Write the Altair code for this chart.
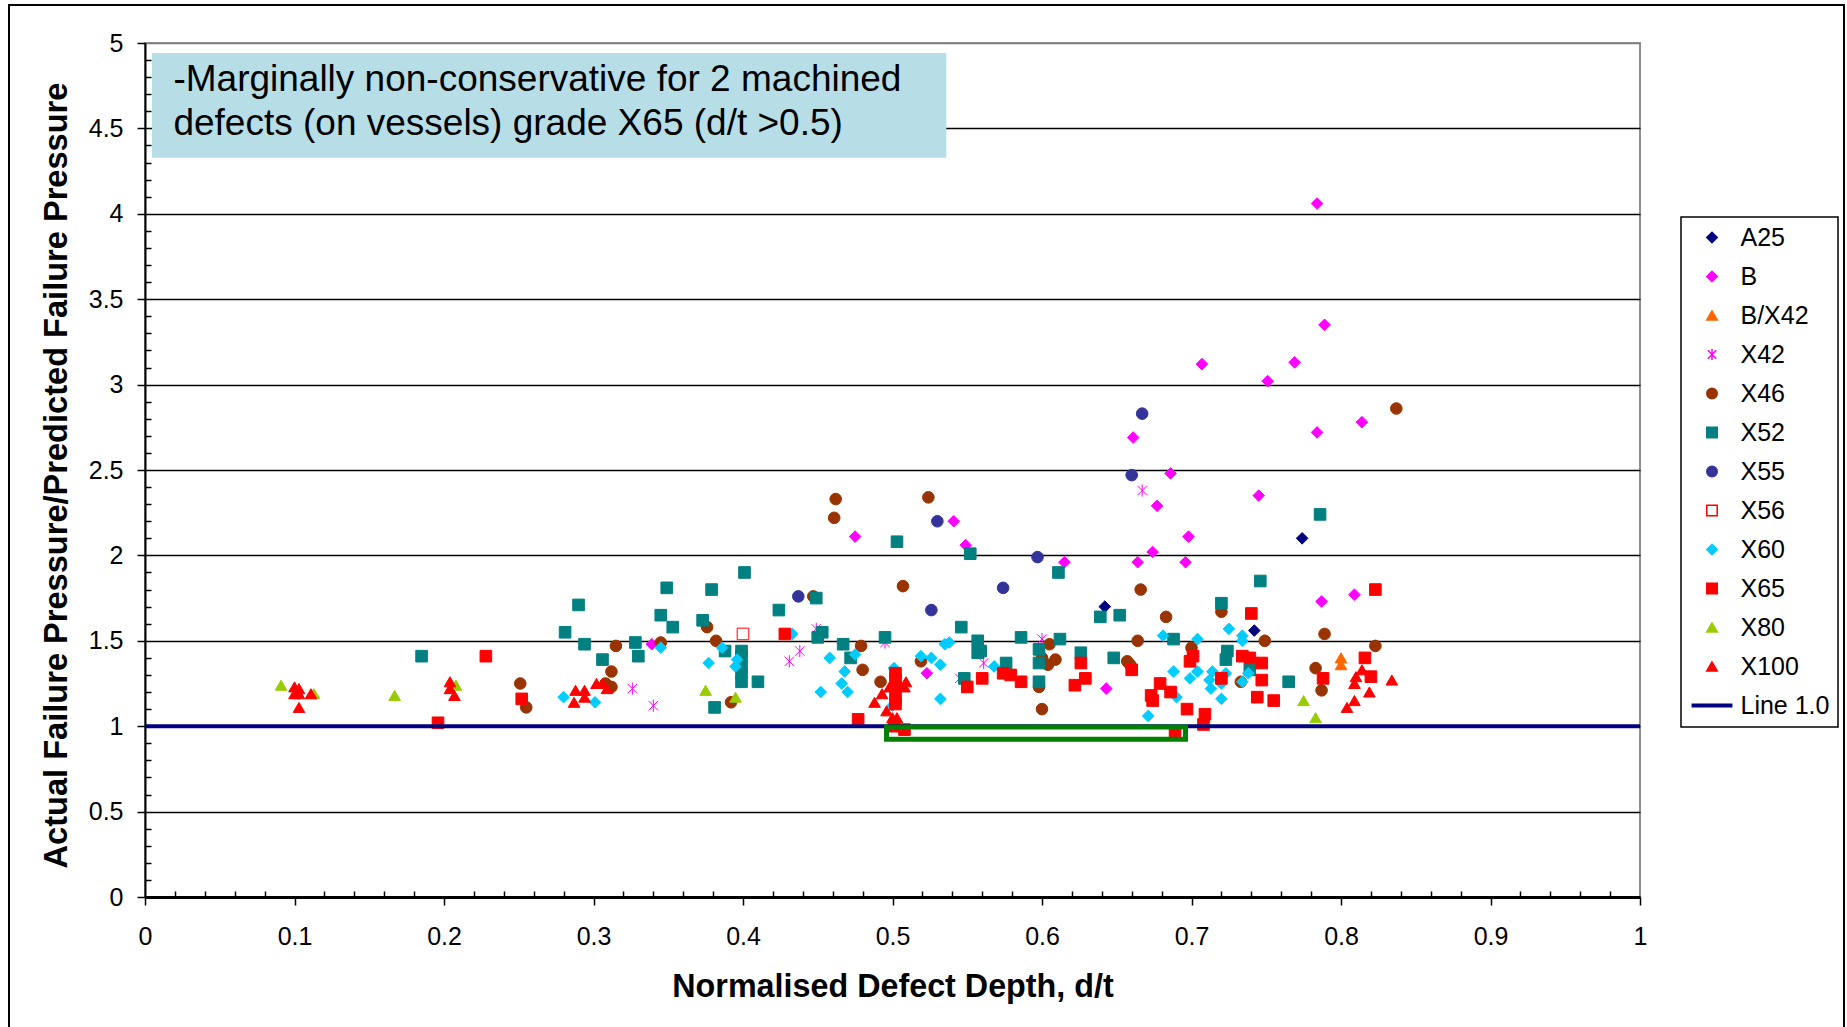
import altair as alt
import pandas as pd

FONT = "Liberation Sans"

# ---------------- data ----------------
a25_x = [0.642, 0.742, 0.774]
a25_y = [1.70, 1.56, 2.10]

b_x = [0.784, 0.789, 0.707, 0.769, 0.751, 0.661, 0.784, 0.814, 0.686, 0.677, 0.745, 0.698,
       0.541, 0.549, 0.615, 0.664, 0.674, 0.696, 0.787, 0.809, 0.475, 0.339, 0.523, 0.643]
b_y = [4.06, 3.35, 3.12, 3.13, 3.02, 2.69, 2.72, 2.78, 2.48, 2.29, 2.35, 2.11,
       2.20, 2.06, 1.96, 1.96, 2.02, 1.96, 1.73, 1.77, 2.11, 1.48, 1.31, 1.22]

bx42_x = [0.800, 0.800]
bx42_y = [1.40, 1.36]

x42_x = [0.667, 0.600, 0.561, 0.545, 0.449, 0.438, 0.431, 0.326, 0.340, 0.495]
x42_y = [2.38, 1.51, 1.37, 1.28, 1.57, 1.44, 1.38, 1.22, 1.12, 1.49]

x46_x = [0.837, 0.666, 0.683, 0.720, 0.789, 0.823, 0.664, 0.749, 0.605, 0.600,
         0.609, 0.604, 0.657, 0.659, 0.700, 0.733, 0.783, 0.787, 0.598, 0.600,
         0.462, 0.461, 0.524, 0.507, 0.447, 0.376, 0.315, 0.345, 0.382, 0.479,
         0.480, 0.492, 0.519, 0.312, 0.308, 0.312, 0.392, 0.251, 0.255]
x46_y = [2.86, 1.80, 1.64, 1.67, 1.54, 1.47, 1.50, 1.50, 1.48, 1.40,
         1.39, 1.36, 1.38, 1.36, 1.46, 1.26, 1.34, 1.21, 1.23, 1.10,
         2.33, 2.22, 2.34, 1.82, 1.76, 1.58, 1.47, 1.49, 1.50, 1.47,
         1.33, 1.26, 1.38, 1.32, 1.25, 1.23, 1.14, 1.25, 1.11]

x52_x = [0.786, 0.611, 0.639, 0.652, 0.746, 0.720, 0.546, 0.688, 0.557, 0.557,
         0.559, 0.586, 0.612, 0.598, 0.598, 0.626, 0.648, 0.724, 0.723, 0.739,
         0.765, 0.548, 0.576, 0.598, 0.552, 0.503, 0.401, 0.349, 0.379, 0.449,
         0.290, 0.345, 0.424, 0.353, 0.373, 0.281, 0.453, 0.450, 0.495, 0.294,
         0.328, 0.388, 0.399, 0.399, 0.399, 0.399, 0.399, 0.410, 0.467, 0.472,
         0.330, 0.306, 0.381, 0.185]
x52_y = [2.24, 1.90, 1.64, 1.65, 1.85, 1.72, 1.58, 1.51, 1.50, 1.43,
         1.44, 1.52, 1.51, 1.45, 1.37, 1.43, 1.40, 1.44, 1.39, 1.33,
         1.26, 1.28, 1.37, 1.26, 2.01, 2.08, 1.90, 1.81, 1.80, 1.75,
         1.71, 1.65, 1.68, 1.58, 1.62, 1.55, 1.55, 1.52, 1.52, 1.48,
         1.49, 1.44, 1.44, 1.41, 1.35, 1.31, 1.26, 1.26, 1.48, 1.40,
         1.41, 1.39, 1.11, 1.41]

x55_x = [0.667, 0.660, 0.597, 0.574, 0.530, 0.437, 0.526]
x55_y = [2.83, 2.47, 1.99, 1.81, 2.20, 1.76, 1.68]

x56_x = [0.400]
x56_y = [1.54]

x60_x = [0.681, 0.704, 0.725, 0.734, 0.734, 0.738, 0.734, 0.688, 0.704, 0.714,
         0.723, 0.699, 0.712, 0.713, 0.720, 0.690, 0.720, 0.671, 0.568, 0.433,
         0.345, 0.386, 0.396, 0.395, 0.377, 0.475, 0.458, 0.468, 0.466, 0.470,
         0.452, 0.501, 0.500, 0.519, 0.526, 0.532, 0.535, 0.538, 0.532, 0.280,
         0.301]
x60_y = [1.53, 1.51, 1.57, 1.53, 1.50, 1.31, 1.26, 1.32, 1.32, 1.32,
         1.31, 1.28, 1.27, 1.22, 1.25, 1.17, 1.16, 1.06, 1.35, 1.54,
         1.46, 1.46, 1.39, 1.35, 1.37, 1.42, 1.40, 1.32, 1.25, 1.20,
         1.20, 1.34, 1.12, 1.41, 1.40, 1.36, 1.48, 1.49, 1.16, 1.17,
         1.14]

x65_x = [0.823, 0.740, 0.660, 0.701, 0.699, 0.734, 0.739, 0.747, 0.720, 0.747,
         0.679, 0.686, 0.673, 0.674, 0.744, 0.755, 0.697, 0.709, 0.708, 0.689,
         0.788, 0.816, 0.820, 0.550, 0.574, 0.579, 0.586, 0.560, 0.626, 0.629,
         0.622, 0.428, 0.477, 0.502, 0.502, 0.502, 0.502, 0.502, 0.501, 0.508,
         0.228, 0.196, 0.252]
x65_y = [1.80, 1.66, 1.33, 1.41, 1.38, 1.41, 1.40, 1.37, 1.28, 1.27,
         1.25, 1.20, 1.18, 1.15, 1.17, 1.15, 1.10, 1.07, 1.01, 0.965,
         1.28, 1.40, 1.29, 1.23, 1.31, 1.30, 1.26, 1.28, 1.37, 1.28,
         1.24, 1.54, 1.04, 1.31, 1.27, 1.23, 1.16, 1.13, 1.00, 0.98,
         1.41, 1.02, 1.16]

x80_x = [0.775, 0.783, 0.375, 0.395, 0.091, 0.113, 0.167, 0.208]
x80_y = [1.15, 1.05, 1.21, 1.17, 1.24, 1.19, 1.18, 1.24]

x100_x = [0.814, 0.810, 0.809, 0.834, 0.819, 0.809, 0.804,
          0.509, 0.498, 0.508, 0.493, 0.488, 0.496, 0.500, 0.503,
          0.302, 0.306, 0.309, 0.288, 0.294, 0.294, 0.287,
          0.100, 0.103, 0.100, 0.103, 0.103, 0.111,
          0.204, 0.204, 0.207]
x100_y = [1.33, 1.29, 1.25, 1.27, 1.20, 1.15, 1.11,
          1.26, 1.23, 1.23, 1.19, 1.14, 1.09, 1.05, 1.05,
          1.25, 1.25, 1.22, 1.21, 1.21, 1.17, 1.14,
          1.23, 1.22, 1.19, 1.19, 1.11, 1.19,
          1.26, 1.22, 1.18]

series_names = ["A25", "B", "B/X42", "X42", "X46", "X52", "X55", "X56",
                "X60", "X65", "X80", "X100"]
series_x = [a25_x, b_x, bx42_x, x42_x, x46_x, x52_x, x55_x, x56_x,
            x60_x, x65_x, x80_x, x100_x]
series_y = [a25_y, b_y, bx42_y, x42_y, x46_y, x52_y, x55_y, x56_y,
            x60_y, x65_y, x80_y, x100_y]

line_label = "Line 1.0"
line_x = [0.0, 1.0]
line_y = [1.0]

highlight_x = [0.496, 0.696]
highlight_y = [0.923, 0.995]

note_lines = ["-Marginally non-conservative for 2 machined",
              "defects (on vessels) grade X65 (d/t >0.5)"]
note_box_x = [0.0047, 0.536]
note_box_y = [4.328, 4.941]
note_text_x = [0.019, 0.019]
note_text_y = [4.718, 4.463]

x_major = [0, 0.1, 0.2, 0.3, 0.4, 0.5, 0.6, 0.7, 0.8, 0.9, 1]
y_major = [0, 0.5, 1, 1.5, 2, 2.5, 3, 3.5, 4, 4.5, 5]
x_minor = [round(i * 0.02, 2) for i in range(51) if i % 5 != 0]
y_minor = [round(i * 0.1, 1) for i in range(51) if i % 5 != 0]

# ---------------- styles ----------------
ASTERISK = "M-0.8,-0.8L0.8,0.8M-0.8,0.8L0.8,-0.8M0,-1.05L0,1.05"
LINE_SYMBOL = "M-3.9,-0.38L3.9,-0.38L3.9,0.38L-3.9,0.38Z"
legend_domain = series_names + [line_label]
fill_range = ["#000080", "#FF00FF", "#FF6600", "transparent", "#993300", "#008080",
              "#333399", "#FFFFFF", "#00CCFF", "#FF0000", "#99CC00", "#FF0000", "#000080"]
stroke_range = ["#000080", "#FF00FF", "#FF6600", "#FF00FF", "#993300", "#008080",
                "#333399", "#FF0000", "#00CCFF", "#FF0000", "#99CC00", "#FF0000", "transparent"]
shape_range = ["diamond", "diamond", "triangle-up", ASTERISK, "circle", "square",
               "circle", "square", "diamond", "square", "triangle-up", "triangle-up",
               LINE_SYMBOL]

rows = []
for name, xs, ys in zip(series_names, series_x, series_y):
    for xv, yv in zip(xs, ys):
        rows.append({"series": name, "d_t": xv, "ratio": yv})
df = pd.DataFrame(rows)

x_scale = alt.Scale(domain=[0, 1], nice=False, zero=False)
y_scale = alt.Scale(domain=[0, 5], nice=False, zero=False)

x_axis = alt.Axis(values=x_major, format="~g", orient="bottom", grid=False,
                  title="Normalised Defect Depth, d/t",
                  domainColor="black", domainWidth=3,
                  tickColor="black", tickWidth=1.5, tickSize=8,
                  labelFont=FONT, labelFontSize=25, labelColor="black",
                  labelPadding=19, labelFlush=False, labelOverlap=False,
                  titleFont=FONT, titleFontSize=32.3, titleFontWeight="bold",
                  titleColor="black", titleY=99, titleBaseline="alphabetic")
y_axis = alt.Axis(values=y_major, format="~g", orient="left", grid=True,
                  gridColor={"condition": {"test": "datum.value >= 5", "value": "#808080"},
                             "value": "#000000"},
                  gridWidth=1.5,
                  title="Actual Failure Pressure/Predicted Failure Pressure",
                  domainColor="black", domainWidth=2,
                  tickColor="black", tickWidth=1.5, tickSize=8,
                  labelFont=FONT, labelFontSize=25, labelColor="black",
                  labelPadding=14, labelFlush=False, labelOverlap=False,
                  titleFont=FONT, titleFontSize=32.6, titleFontWeight="bold",
                  titleColor="black", titleX=-79, titleY=432, titleAngle=270,
                  titleAlign="center", titleBaseline="alphabetic")
x_minor_axis = alt.Axis(values=x_minor, orient="bottom", labels=False, domain=False,
                        grid=False, title=None, tickSize=6, tickWidth=1.5,
                        tickColor="black", offset=-6)
y_minor_axis = alt.Axis(values=y_minor, orient="left", labels=False, domain=False,
                        grid=False, title=None, tickSize=6, tickWidth=1.5,
                        tickColor="black", offset=-6)

legend = alt.Legend(title=None, orient="none", legendX=1536, legendY=174,
                    labelFont=FONT, labelFontSize=25, labelColor="black",
                    symbolSize=110, symbolStrokeWidth=1.5, rowPadding=13,
                    padding=8, strokeColor="black", fillColor="white",
                    symbolOffset=10.5, labelOffset=16, labelLimit=300)

points = alt.Chart(df).mark_point(filled=True, size=135, opacity=1, strokeWidth=1).encode(
    x=alt.X("d_t:Q", scale=x_scale, axis=x_axis),
    y=alt.Y("ratio:Q", scale=y_scale, axis=y_axis),
    fill=alt.Fill("series:N", scale=alt.Scale(domain=legend_domain, range=fill_range),
                  legend=legend),
    stroke=alt.Stroke("series:N", scale=alt.Scale(domain=legend_domain, range=stroke_range),
                      legend=legend),
    shape=alt.Shape("series:N", scale=alt.Scale(domain=legend_domain, range=shape_range),
                    legend=legend),
)

line_df = pd.DataFrame({"x0": [line_x[0]], "x1": [line_x[1]], "y": line_y})
rule = alt.Chart(line_df).mark_rule(color="#000080", strokeWidth=4).encode(
    x=alt.X("x0:Q", scale=x_scale, axis=x_minor_axis),
    x2="x1:Q",
    y=alt.Y("y:Q", scale=y_scale, axis=y_minor_axis),
)

hl_df = pd.DataFrame({"x0": [highlight_x[0]], "x1": [highlight_x[1]],
                      "y0": [highlight_y[0]], "y1": [highlight_y[1]]})
highlight = alt.Chart(hl_df).mark_rect(fill="transparent", stroke="#008000",
                                       strokeWidth=5).encode(
    x=alt.X("x0:Q", scale=x_scale, axis=None), x2="x1:Q",
    y=alt.Y("y0:Q", scale=y_scale, axis=None), y2="y1:Q",
)

nb_df = pd.DataFrame({"x0": [note_box_x[0]], "x1": [note_box_x[1]],
                      "y0": [note_box_y[0]], "y1": [note_box_y[1]]})
note_box = alt.Chart(nb_df).mark_rect(fill="#B7DEE6", strokeWidth=0).encode(
    x=alt.X("x0:Q", scale=x_scale, axis=None), x2="x1:Q",
    y=alt.Y("y0:Q", scale=y_scale, axis=None), y2="y1:Q",
)

nt_df = pd.DataFrame({"text": note_lines, "x": note_text_x, "y": note_text_y})
note_text = alt.Chart(nt_df).mark_text(align="left", baseline="alphabetic", font=FONT,
                                       fontSize=37, color="black").encode(
    x=alt.X("x:Q", scale=x_scale, axis=None),
    y=alt.Y("y:Q", scale=y_scale, axis=None),
    text="text:N",
)

frame = alt.Chart(pd.DataFrame({"k": [0]})).mark_rect(
    fill="transparent", stroke="black", strokeWidth=2).encode(
    x=alt.value(-136), x2=alt.value(1699), y=alt.value(-38), y2=alt.value(1000)
)

chart = alt.layer(note_box, note_text, points, rule, highlight, frame).resolve_axis(
    x="independent", y="independent"
).properties(
    width=1495, height=854,
    autosize=alt.AutoSizeParams(type="none"),
    padding={"left": 145, "top": 43, "right": 207, "bottom": 130},
    background="white",
).configure_view(stroke="#909090", strokeWidth=2).configure_legend(strokeWidth=1.5)

chart.save("out.html", embed_options={"renderer": "svg", "actions": False})
